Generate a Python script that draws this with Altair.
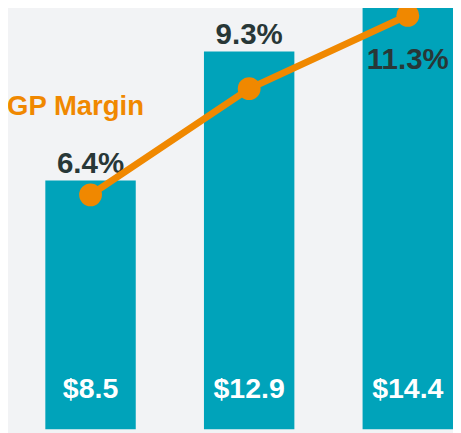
import altair as alt
import pandas as pd

categories = ["Year 1", "Year 2", "Year 3"]
revenue = [8.5, 12.9, 14.4]
gp_margin = [6.4, 9.3, 11.3]
revenue_labels = ["$8.5", "$12.9", "$14.4"]
margin_labels = ["6.4%", "9.3%", "11.3%"]
placement = ["above", "above", "inside"]

df = pd.DataFrame({
    "cat": categories,
    "revenue": revenue,
    "margin": gp_margin,
    "rev_label": revenue_labels,
    "m_label": margin_labels,
    "place": placement,
})

TEAL = "#00a3ba"
ORANGE = "#f08800"
DARK = "#283737"
FONT = "Liberation Sans"

xs = alt.X("cat:N", sort=categories, axis=None,
           scale=alt.Scale(range=[38, 453], paddingInner=0.43, paddingOuter=0))
ybar = alt.Scale(domain=[0, 14.26], nice=False, zero=True)
yline = alt.Scale(domain=[0, 11.4], nice=False, zero=True)

base = alt.Chart(df)

bars = base.mark_bar(color=TEAL).encode(
    x=xs, y=alt.Y("revenue:Q", scale=ybar, axis=None))

rev_text = base.mark_text(font=FONT, fontSize=29, fontWeight="bold", color="white",
                          baseline="alphabetic", dy=-32).encode(
    x=xs, y=alt.Y("zero:Q", scale=ybar, axis=None), text="rev_label:N"
).transform_calculate(zero="0")

above_text = base.mark_text(font=FONT, fontSize=30, fontWeight="bold", color=DARK,
                            baseline="alphabetic", dy=-8).encode(
    x=xs, y=alt.Y("revenue:Q", scale=ybar, axis=None), text="m_label:N"
).transform_filter(alt.datum.place == "above")

inside_text = base.mark_text(font=FONT, fontSize=30, fontWeight="bold", color=DARK,
                             baseline="alphabetic", dy=55).encode(
    x=xs, y=alt.Y("margin:Q", scale=yline, axis=None), text="m_label:N"
).transform_filter(alt.datum.place == "inside")

line = base.mark_line(color=ORANGE, strokeWidth=7).encode(
    x=xs, y=alt.Y("margin:Q", scale=yline, axis=None))

pts = base.mark_circle(color=ORANGE, opacity=1, size=540).encode(
    x=xs, y=alt.Y("margin:Q", scale=yline, axis=None))

title = alt.Chart(pd.DataFrame({"t": ["GP Margin"]})).mark_text(
    font=FONT, fontSize=28, fontWeight="bold", color=ORANGE,
    align="left", baseline="alphabetic").encode(
    x=alt.value(-1), y=alt.value(105), text="t:N")

chart = alt.layer(bars, rev_text, above_text, line, pts, inside_text, title).resolve_scale(
    y="independent", x="shared"
).properties(
    width=453, height=425, padding=0, autosize="none", background="#f2f3f5"
).configure_view(stroke=None)

chart.save("out.html", embed_options={"renderer": "svg", "actions": False})
